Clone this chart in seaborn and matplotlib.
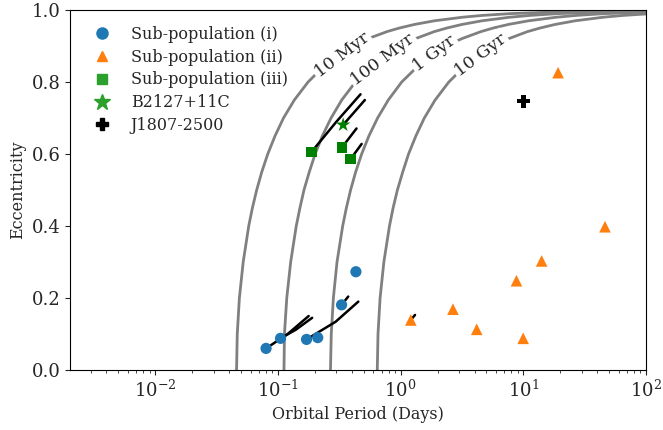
import matplotlib
matplotlib.use("Agg")
import matplotlib.pyplot as plt
from matplotlib.lines import Line2D
import seaborn as sns

# Sub-population (i): orbital period (days), eccentricity
sub1_period = [0.080, 0.105, 0.171, 0.211, 0.330, 0.432]
sub1_ecc = [0.060, 0.088, 0.085, 0.090, 0.181, 0.273]

# Sub-population (ii)
sub2_period = [1.21, 2.67, 4.17, 8.79, 9.97, 14.1, 46.3, 19.2]
sub2_ecc = [0.139, 0.169, 0.113, 0.248, 0.088, 0.303, 0.398, 0.826]

# Sub-population (iii)
sub3_period = [0.188, 0.332, 0.391]
sub3_ecc = [0.606, 0.618, 0.586]

b2127_period = [0.340]
b2127_ecc = [0.681]
j1807_period = [10.0]
j1807_ecc = [0.747]

# evolution tracks (start -> end)
track_periods = [
    [0.080, 0.120, 0.178],
    [0.105, 0.140, 0.190],
    [0.171, 0.295, 0.452],
    [0.330, 0.374],
    [1.21, 1.31],
    [0.188, 0.300, 0.471],
    [0.340, 0.511],
    [0.332, 0.437],
    [0.391, 0.481],
]
track_eccs = [
    [0.060, 0.100, 0.150],
    [0.088, 0.112, 0.145],
    [0.085, 0.134, 0.190],
    [0.181, 0.204],
    [0.139, 0.153],
    [0.606, 0.690, 0.766],
    [0.681, 0.750],
    [0.618, 0.671],
    [0.586, 0.628],
]

# merger time contours
curve_ecc = [0, 0.1, 0.2, 0.3, 0.4, 0.45, 0.5, 0.55, 0.6, 0.65, 0.7, 0.75, 0.8,
             0.85, 0.88, 0.9, 0.92, 0.94, 0.95, 0.96, 0.97, 0.98, 0.985, 0.99,
             0.995, 0.997, 0.998, 0.999]
curve_10myr = [0.0460, 0.0466, 0.0485, 0.0521, 0.0578, 0.0619, 0.0671, 0.0738,
               0.0826, 0.0946, 0.111, 0.136, 0.176, 0.247, 0.325, 0.407, 0.538,
               0.774, 0.977, 1.30, 1.88, 3.19, 4.63, 7.86, 19.5, 38.0, 64.6, 160]
curve_100myr = [0.112, 0.113, 0.118, 0.127, 0.141, 0.151, 0.163, 0.180, 0.201,
                0.230, 0.271, 0.331, 0.428, 0.602, 0.791, 0.990, 1.31, 1.88,
                2.38, 3.17, 4.59, 7.76, 11.3, 19.1, 47.4, 92.5, 157]
curve_1gyr = [0.268, 0.272, 0.283, 0.303, 0.337, 0.361, 0.391, 0.430, 0.481,
              0.551, 0.649, 0.793, 1.02, 1.44, 1.89, 2.37, 3.13, 4.51, 5.69,
              7.57, 11.0, 18.6, 27.0, 45.8, 113]
curve_10gyr = [0.645, 0.654, 0.680, 0.730, 0.811, 0.868, 0.941, 1.04, 1.16,
               1.33, 1.56, 1.91, 2.47, 3.47, 4.55, 5.70, 7.54, 10.8, 13.7,
               18.2, 26.4, 44.7, 65.0, 110]
curve_labels = ["10 Myr", "100 Myr", "1 Gyr", "10 Gyr"]
label_period = [0.335, 0.72, 1.88, 4.5]
label_ecc = [0.875, 0.862, 0.88, 0.875]

sns.set_style("ticks")
plt.rcParams["font.family"] = ["DejaVu Serif"]
plt.rcParams["mathtext.fontset"] = "dejavuserif"

fig = plt.figure(figsize=(6.63, 4.30), dpi=100)
ax = fig.add_axes([0.1056, 0.1395, 0.8688, 0.8372])

for per in [curve_10myr, curve_100myr, curve_1gyr, curve_10gyr]:
    sns.lineplot(x=per, y=curve_ecc[:len(per)], sort=False, estimator=None,
                 color="gray", lw=2, ax=ax)
for lab, xp, yp in zip(curve_labels, label_period, label_ecc):
    ax.text(xp, yp, lab, rotation=37, ha="center", va="center", fontsize=12.5,
            bbox=dict(facecolor="white", edgecolor="none", pad=1.5), zorder=3)

for xp, yp in zip(track_periods, track_eccs):
    sns.lineplot(x=xp, y=yp, sort=False, estimator=None, color="black", lw=1.8, ax=ax)

sns.scatterplot(x=sub1_period, y=sub1_ecc, marker="o", color="#1f77b4", s=65,
                edgecolor="none", ax=ax, zorder=4)
sns.scatterplot(x=sub2_period, y=sub2_ecc, marker="^", color="#ff7f0e", s=70,
                edgecolor="none", ax=ax, zorder=4)
sns.scatterplot(x=sub3_period, y=sub3_ecc, marker="s", color="green", s=55,
                edgecolor="none", ax=ax, zorder=4)
sns.scatterplot(x=b2127_period, y=b2127_ecc, marker="*", color="green", s=120,
                edgecolor="none", ax=ax, zorder=4)
sns.scatterplot(x=j1807_period, y=j1807_ecc, marker="P", color="black", s=90,
                edgecolor="none", ax=ax, zorder=4)

ax.set_xscale("log")
ax.set_xlim(2.02e-3, 100)
ax.set_ylim(0, 1)
ax.set_xlabel("Orbital Period (Days)", fontsize=11.5)
ax.set_ylabel("Eccentricity", fontsize=11.5)
ax.tick_params(axis="both", which="major", labelsize=13)
for sp in ax.spines.values():
    sp.set_color("black")

handles = [
    Line2D([], [], ls="none", marker="o", color="#1f77b4", ms=8),
    Line2D([], [], ls="none", marker="^", color="#ff7f0e", ms=7),
    Line2D([], [], ls="none", marker="s", color="#2ca02c", ms=7),
    Line2D([], [], ls="none", marker="*", color="#2ca02c", ms=12),
    Line2D([], [], ls="none", marker="P", color="black", ms=9),
]
labels = ["Sub-population (i)", "Sub-population (ii)", "Sub-population (iii)",
          "B2127+11C", "J1807-2500"]
ax.legend(handles, labels, loc="upper left", frameon=False, fontsize=11.5,
          labelspacing=0.36, handletextpad=0.8, borderaxespad=0.6)

fig.savefig("out.png", dpi=100)
